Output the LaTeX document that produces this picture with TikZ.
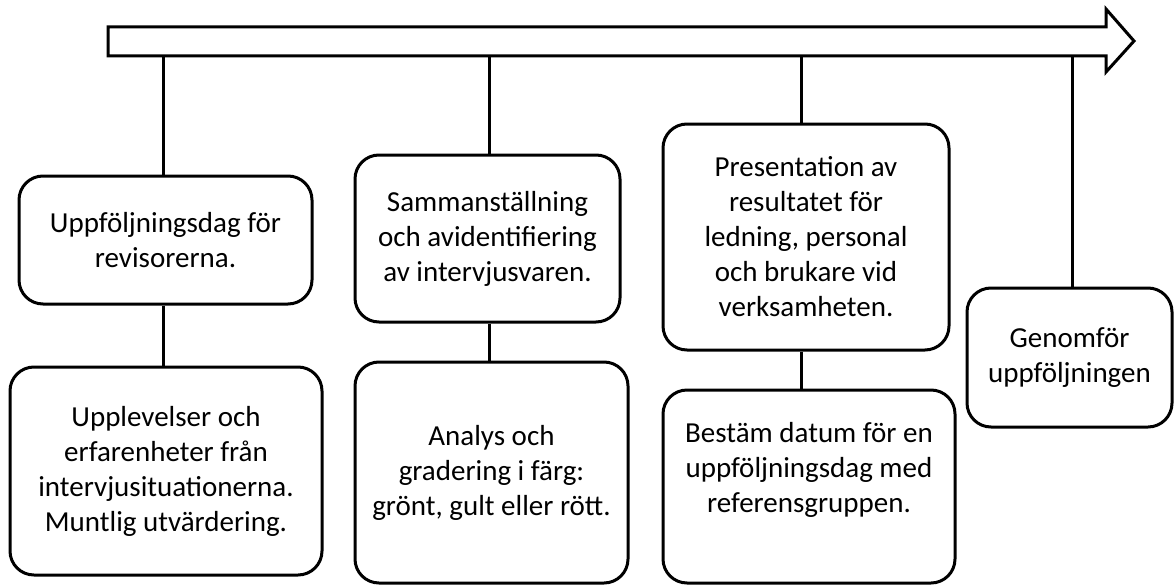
\documentclass[tikz,border=0pt]{standalone}
\usepackage{fontspec}
\setmainfont{Carlito}
\begin{document}
\begin{tikzpicture}[x=1pt,y=-1pt,line width=3pt,
  box/.style={draw, rounded corners=24pt, align=center, inner sep=0pt,
    font=\fontsize{29}{35}\selectfont},
  txt/.style={align=center, inner sep=0pt, font=\fontsize{29}{35}\selectfont},
  link/.style={draw}]
\useasboundingbox (0,0) rectangle (1174,586);
% timeline arrow
\draw[line join=miter] (108,27) -- (1106,27) -- (1106,9) -- (1134,41)
  -- (1106,72) -- (1106,56) -- (108,56) -- cycle;
\coordinate (a1) at (163,56);
\coordinate (a2) at (489,56);
\coordinate (a3) at (801,56);
\coordinate (a4) at (1072,56);
% boxes
\node[box, minimum width=293pt, minimum height=128pt] (b1) at (165.5,240)
  {Uppföljningsdag för\\revisorerna.};
\node[box, minimum width=312pt, minimum height=208pt] (b2) at (166,471)
  {Upplevelser och\\erfarenheter från\\intervjusituationerna.\\Muntlig utvärdering.};
\node[box, minimum width=265pt, minimum height=167pt] (b3) at (487.5,238.5)
  {Sammanställning\\och avidentifiering\\av intervjusvaren.};
\node[box, minimum width=273pt, minimum height=221pt] (b4) at (491.5,472.5)
  {Analys och\\gradering i färg:\\grönt, gult eller rött.};
\node[box, minimum width=286pt, minimum height=226pt] (b5) at (806,237)
  {Presentation av\\resultatet för\\ledning, personal\\och brukare vid\\verksamheten.};
\node[box, minimum width=292pt, minimum height=193pt] (b6) at (809,486.5) {};
\node[txt] (b6t) at (809,470)
  {Bestäm datum för en\\uppföljningsdag med\\referensgruppen.};
\node[box, minimum width=205pt, minimum height=139pt] (b7) at (1069.5,357.5)
  {Genomför\\uppföljningen};
% connectors
\draw[link] (a1) -- (a1 |- b1.north);
\draw[link] (b1.south -| a1) -- (b2.north -| a1);
\draw[link] (a2) -- (a2 |- b3.north);
\draw[link] (b3.south -| a2) -- (b4.north -| a2);
\draw[link] (a3) -- (a3 |- b5.north);
\draw[link] (b5.south -| a3) -- (b6.north -| a3);
\draw[link] (a4) -- (a4 |- b7.north);
\end{tikzpicture}
\end{document}
